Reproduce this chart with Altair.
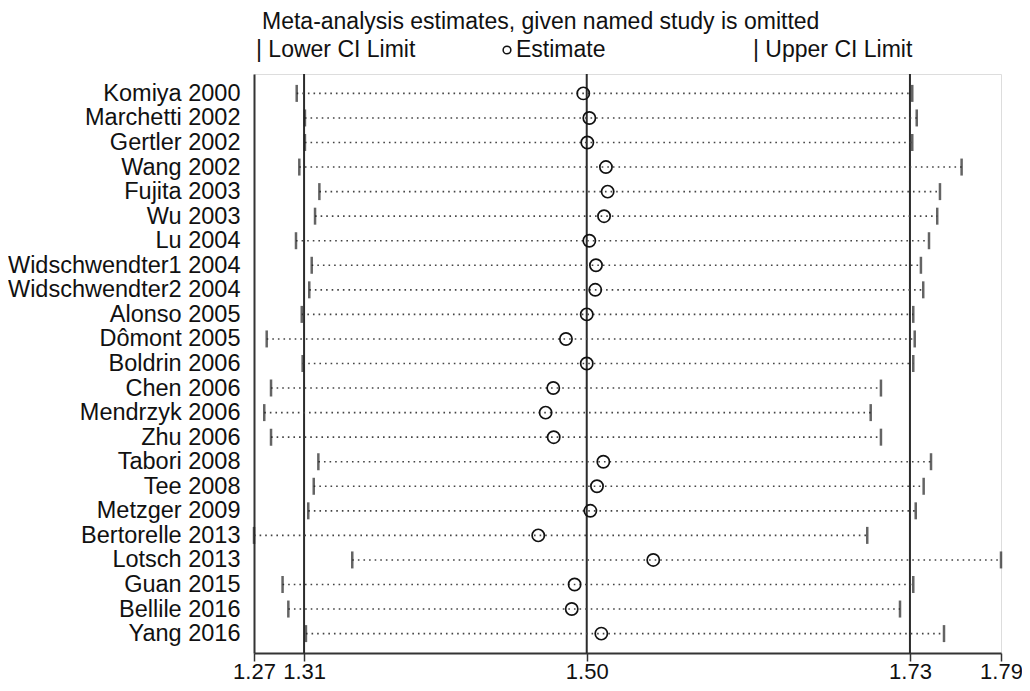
import altair as alt
import pandas as pd

studies = ["Komiya 2000", "Marchetti 2002", "Gertler 2002", "Wang 2002\u00a0", "Fujita 2003",
           "Wu 2003", "Lu 2004", "Widschwendter1 2004", "Widschwendter2 2004", "Alonso 2005",
           "Dômont 2005", "Boldrin 2006", "Chen 2006", "Mendrzyk 2006", "Zhu 2006",
           "Tabori 2008", "Tee 2008", "Metzger 2009", "Bertorelle 2013", "Lotsch 2013",
           "Guan 2015", "Bellile 2016", "Yang 2016"]
lower = [1.3031, 1.3088, 1.3088, 1.3049, 1.3188, 1.3158, 1.3026, 1.3135, 1.3118, 1.3066,
         1.2823, 1.3072, 1.2853, 1.2806, 1.2853, 1.3181, 1.3149, 1.3111, 1.2735, 1.3416,
         1.2933, 1.2973, 1.3095]
estimate = [1.5017, 1.5059, 1.5045, 1.5174, 1.5186, 1.5161, 1.5059, 1.5105, 1.5100, 1.5041,
            1.4897, 1.5041, 1.4809, 1.4756, 1.4812, 1.5156, 1.5112, 1.5066, 1.4705, 1.5502,
            1.4957, 1.4937, 1.5142]
upper = [1.7297, 1.7328, 1.7297, 1.7639, 1.7489, 1.7470, 1.7413, 1.7357, 1.7373, 1.7304,
         1.7314, 1.7304, 1.7080, 1.7009, 1.7080, 1.7427, 1.7376, 1.7321, 1.6985, 1.7912,
         1.7304, 1.7212, 1.7517]
ref_lines = [1.3082, 1.5041, 1.7281]
axis_ticks = [1.2735, 1.3082, 1.5041, 1.7281, 1.7912]

title_text = "Meta-analysis estimates, given named study is omitted"
legend_lower = "| Lower CI Limit"
legend_est = "Estimate"
legend_upper = "| Upper CI Limit"

FONT = "Liberation Sans"
df = pd.DataFrame({"study": studies, "lower": lower, "estimate": estimate, "upper": upper})
ref_df = pd.DataFrame({"v": ref_lines})

xscale = alt.Scale(domain=[axis_ticks[0], axis_ticks[-1]], nice=False, zero=False)
yscale = alt.Scale(type="point", padding=0.79)

y_enc = alt.Y("study:N", sort=studies, scale=yscale,
              axis=alt.Axis(title=None, ticks=False, labelPadding=14, labelFontSize=23.5,
                            labelFont=FONT, labelColor="#111", domainColor="#333",
                            domainWidth=2, grid=False, labelLimit=400))

ci = alt.Chart(df).mark_rule(strokeDash=[1.6, 4], strokeWidth=1.6, color="#444").encode(
    x=alt.X("lower:Q", scale=xscale,
            axis=alt.Axis(title=None, values=axis_ticks, format=".2f", labelFontSize=22,
                          labelFont=FONT, labelColor="#111", tickSize=8, tickColor="#333",
                          tickWidth=1.5, domainColor="#333", domainWidth=2, labelPadding=0,
                          grid=False, labelFlush=False, labelOverlap=False)),
    x2="upper:Q",
    y=y_enc,
)

refs = alt.Chart(ref_df).mark_rule(color="#2b2b2b", strokeWidth=2).encode(
    x=alt.X("v:Q", scale=xscale)
)

lo_ticks = alt.Chart(df).mark_tick(orient="vertical", thickness=2.5, size=17, color="#222").encode(
    x=alt.X("lower:Q", scale=xscale), y=alt.Y("study:N", sort=studies, scale=yscale)
)
up_ticks = alt.Chart(df).mark_tick(orient="vertical", thickness=2.5, size=17, color="#222").encode(
    x=alt.X("upper:Q", scale=xscale), y=alt.Y("study:N", sort=studies, scale=yscale)
)
pts = alt.Chart(df).mark_point(shape="circle", size=150, strokeWidth=1.7, color="#111",
                               filled=False, opacity=1).encode(
    x=alt.X("estimate:Q", scale=xscale), y=alt.Y("study:N", sort=studies, scale=yscale)
)


def label(txt, px, py):
    return alt.Chart(pd.DataFrame({"t": [txt]})).mark_text(
        align="left", baseline="alphabetic", fontSize=23, font=FONT, color="#111"
    ).encode(x=alt.value(px), y=alt.value(py), text="t:N")


title = label(title_text, 8, -45)
leg1 = label(legend_lower, 2, -17)
leg2 = label(legend_est, 262, -17)
leg3 = label(legend_upper, 499, -17)
leg_circle = alt.Chart(pd.DataFrame({"t": [legend_est]})).mark_point(
    shape="circle", size=60, strokeWidth=1.5, color="#111", filled=False, opacity=1
).encode(x=alt.value(253), y=alt.value(-24))

chart = alt.layer(refs, ci, lo_ticks, up_ticks, pts, title, leg1, leg2, leg3, leg_circle).properties(
    width=747, height=579,
    padding={"left": 246, "top": 66, "right": 21, "bottom": 30},
    autosize=alt.AutoSizeParams(type="none"),
).configure_view(stroke=None).configure(background="white")

chart.save("out.html", embed_options={"renderer": "svg", "actions": False})
